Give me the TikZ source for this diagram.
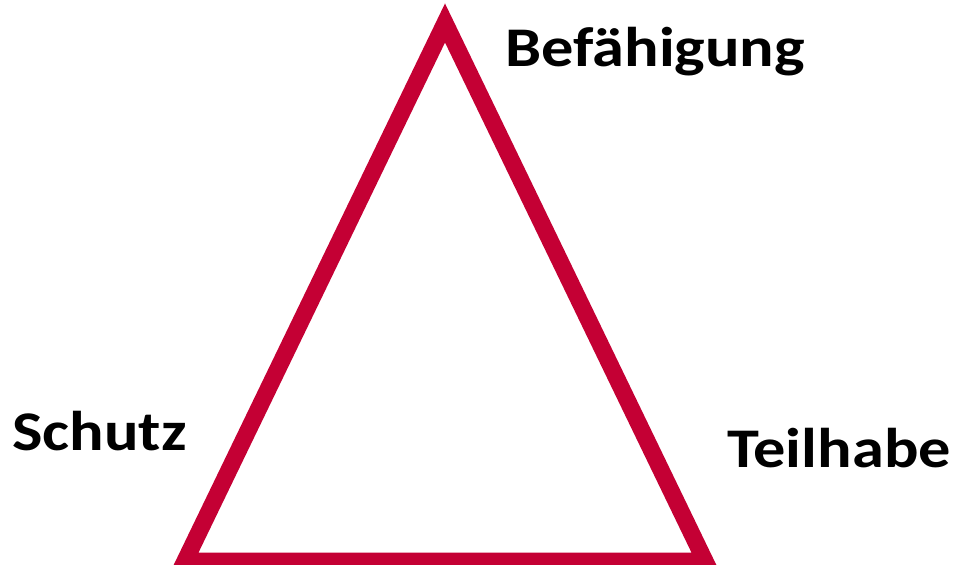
\documentclass[tikz,border=0pt]{standalone}
\usepackage{fontspec}
\setmainfont{Carlito}
\definecolor{trired}{RGB}{196,0,52}
\begin{document}
\begin{tikzpicture}[x=1pt,y=-1pt,
  tri/.style={draw=trired,line width=17pt,line join=miter,miter limit=10},
  lbl/.style={font=\bfseries\fontsize{56}{60}\selectfont,inner sep=0pt,anchor=base west,text=black,xscale=1.15}]
\useasboundingbox (0,0) rectangle (954,565);
\coordinate (top) at (445,23);
\coordinate (bl) at (185,561);
\coordinate (br) at (705,561);
\draw[tri] (top) -- (bl) -- (br) -- cycle;
\node[lbl] (bef) at (505,66) {Befähigung};
\node[lbl] (sch) at (12,450) {Schutz};
\node[lbl] (teil) at (727,467) {Teilhabe};
\end{tikzpicture}
\end{document}
